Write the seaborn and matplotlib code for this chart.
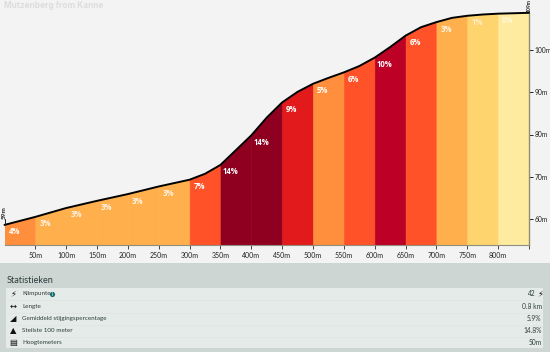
import numpy as np
import pandas as pd
import matplotlib
matplotlib.use("Agg")
import matplotlib.pyplot as plt
import seaborn as sns

TITLE = "Mutzenberg from Kanne"
distance = [0, 50, 100, 150, 200, 250, 300, 325, 350, 400, 425, 450, 475, 500, 525, 550, 575, 600, 625, 650, 675, 700, 725, 750, 775, 800, 825, 850]
elevation = [58.6, 60.5, 62.6, 64.3, 65.9, 67.7, 69.3, 70.7, 72.8, 79.8, 84.0, 87.6, 90.1, 92.0, 93.4, 94.7, 96.2, 98.2, 100.7, 103.4, 105.4, 106.6, 107.6, 108.1, 108.4, 108.6, 108.7, 108.8]
seg_start = list(range(0, 850, 50))
grades = [4, 3, 3, 3, 3, 3, 7, 14, 14, 9, 5, 6, 10, 6, 3, 1, 0]
seg_colors = ["#FF8F3C", "#FFB04D", "#FFB04D", "#FFB04D", "#FFB04D", "#FFB04D", "#FF5229", "#8F0020", "#8F0020",
              "#E31A1C", "#FF8F3C", "#FF5229", "#BD0026", "#FF5229", "#FFB04D", "#FED46F", "#FFEB9F"]
x_ticks = list(range(50, 850, 50))
y_ticks = [60, 70, 80, 90, 100]
stat_labels = ["Klimpunten", "Lengte", "Gemiddeld stijgingspercentage", "Steilste 100 meter", "Hoogtemeters"]
stat_values = ["42", "0.8 km", "5.9%", "14.8%", "50m"]
stat_icons = ["\u26A1", "\u2194", "\u25E2", "\u25B2", "\u25A4"]

W, H = 550, 352
sns.set_theme(style="white")
plt.rcParams["font.family"] = ["Lato", "DejaVu Sans"]
fig = plt.figure(figsize=(W / 100, H / 100), dpi=100, facecolor="#F3F3F3")

# main chart: pixel extents
L, R, B, T = 4.5, 529.0, 245.0, 0.0
ax = fig.add_axes([L / W, 1 - B / H, (R - L) / W, (B - T) / H], facecolor="none")
ax.set_xlim(0, 850)
px_per_m = 4.225
y_low = 60 - (B - 219) / px_per_m
y_high = 60 + (219 - T) / px_per_m
ax.set_ylim(y_low, y_high)

df = pd.DataFrame({"distance": distance, "elevation": elevation})
for s, c in zip(seg_start, seg_colors):
    d = df[(df.distance >= s) & (df.distance <= s + 50)]
    ax.fill_between(d.distance, d.elevation, y_low, facecolor=c, edgecolor=c, lw=0.4, zorder=1)
sns.lineplot(data=df, x="distance", y="elevation", color="black", lw=1.4, ax=ax, zorder=3, clip_on=False)

for s, g in zip(seg_start, grades):
    e = np.interp(s, distance, elevation)
    alpha = 1 if g > 3 else (0.85 if g == 3 else 0.6)
    ax.annotate(f"{g}%", (s, e), xytext=(7, -5), textcoords="offset points", ha="center", va="center",
                color="white", alpha=alpha, fontsize=5.6, fontweight="bold", family="Open Sans", zorder=4)

ax.set_xlabel("")
ax.set_ylabel("")
ax.set_xticks(x_ticks + [850], [f"{v}m" for v in x_ticks] + [""])
ax.yaxis.tick_right()
ax.set_yticks(y_ticks, [f"{v}m" for v in y_ticks])
ax.tick_params(axis="x", length=3, width=0.7, color="#444444", labelsize=5.0, labelcolor="#222222", pad=2, bottom=True)
ax.tick_params(axis="y", length=3, width=0.7, color="#222222", labelsize=4.8, labelcolor="#222222", pad=0.8, right=True)
for s in ["top", "left"]:
    ax.spines[s].set_visible(False)
ax.spines["bottom"].set_color("#8F8F80")
ax.spines["bottom"].set_linewidth(0.8)
ax.spines["right"].set_color("#8F8F70")
ax.spines["right"].set_linewidth(1.0)
ax.spines["right"].set_bounds(y_low, elevation[-1])

# start / finish height markers
ax.plot([0, 0], [elevation[0], elevation[0] + 1.4], color="#222222", lw=0.7, zorder=3)
ax.annotate(f"{round(elevation[0])}m", (0, elevation[0] + 1.5), ha="center", va="bottom", rotation=90,
            fontsize=4.6, color="#222222", fontweight="bold")
ax.annotate(f"{round(elevation[-1])}m", (850, elevation[-1] + 0.25), ha="center", va="bottom", rotation=90,
            fontsize=3.6, color="#222222", fontweight="bold", annotation_clip=False)

fig.text(4.5 / W, 1 - 5.0 / H, TITLE, fontsize=6.0, fontweight="bold", color="#DDDDDD", family="Inter",
         ha="left", va="center")

# statistics panel (pixel coordinates)
pax = fig.add_axes([0, 0, 1, 89 / H])
pax.set_xlim(0, W)
pax.set_ylim(H, 263)
pax.axis("off")
pax.add_patch(plt.Rectangle((0, 263), W, 89, color="#CDD6D2", lw=0))
pax.add_patch(plt.Rectangle((6, 288), 537, 60, color="#E5EBE9", lw=0))
pax.text(6.5, 280.5, "Statistieken", fontsize=6.6, color="#2A3A3A", va="center", ha="left", family="Lato")
row_y = [294, 306.5, 318.5, 330.5, 342.5]
for i, (y, lab, val, ic) in enumerate(zip(row_y, stat_labels, stat_values, stat_icons)):
    pax.text(13.5, y, ic, fontsize=6.0, color="#111111", ha="center", va="center", family="DejaVu Sans")
    pax.text(22.5, y, lab, fontsize=4.5, color="#2E3E3E", ha="left", va="center", family="Lato")
    pax.text(541.5 if i else 535.5, y, val, fontsize=4.8, color="#2E3E3E", ha="right", va="center", family="Lato")
    if i < 4:
        pax.plot([6, 543], [y + 6.2] * 2, color="#DDE5E2", lw=0.5)
pax.text(540, 294, "\u26A1", fontsize=6.0, color="#111111", ha="center", va="center", family="DejaVu Sans")
pax.scatter([52], [294], s=14, color="#17706E", lw=0, zorder=3)
pax.text(52, 294, "i", fontsize=3.5, color="white", ha="center", va="center", zorder=4)

fig.savefig("out.png", dpi=100, facecolor=fig.get_facecolor())
